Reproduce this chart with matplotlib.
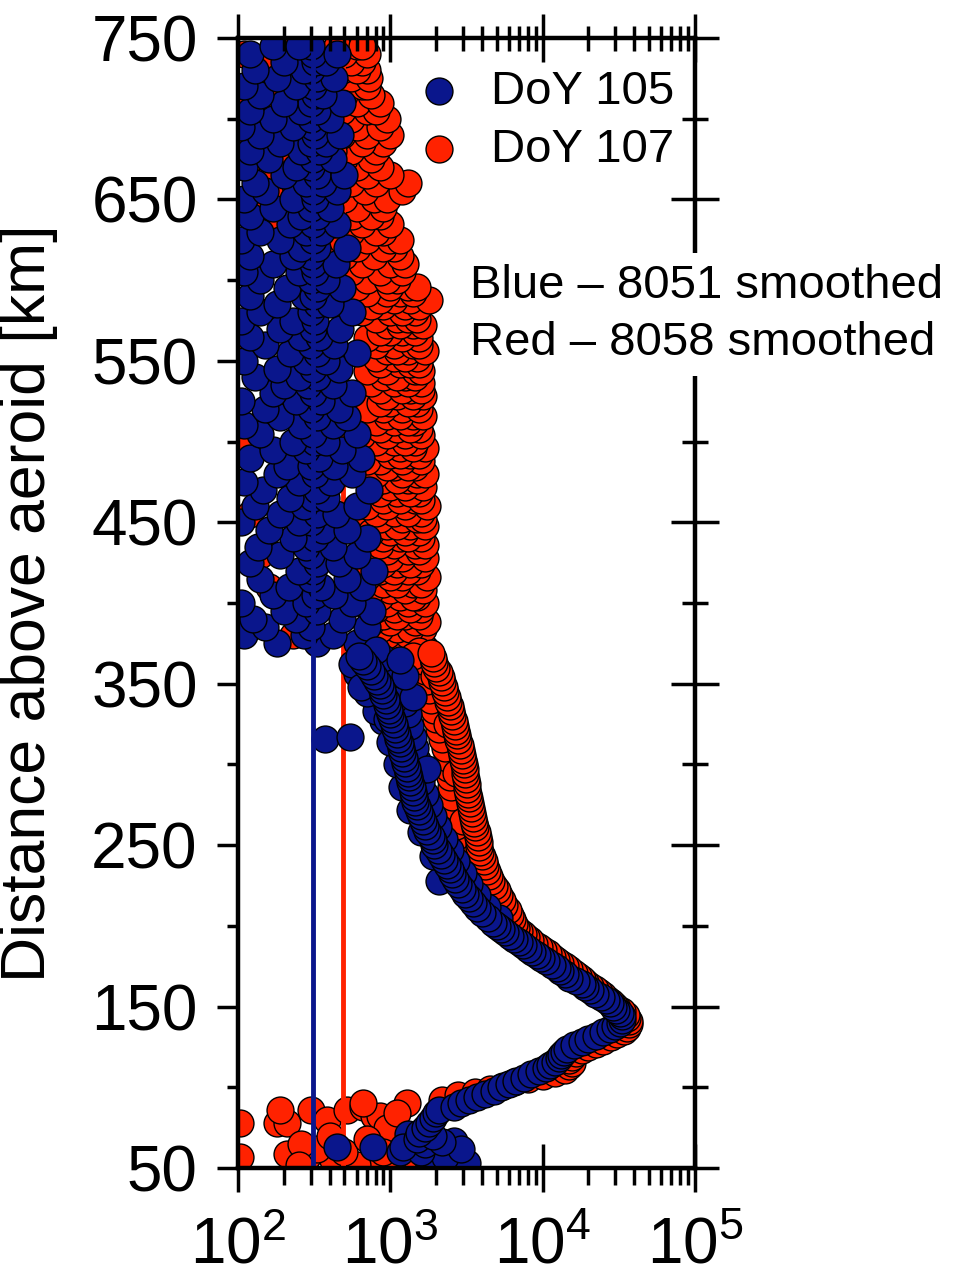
import numpy as np
import matplotlib
matplotlib.use("Agg")
import matplotlib.pyplot as plt
from matplotlib.ticker import LogLocator

BLUE = "#0a168c"
RED = "#ff2200"

# DoY 105: dense lower profile, (altitude km, value)
blue_core = [
    (50, 2600), (53, 3200), (55, 1900), (57, 2300), (60, 1600), (62, 2900), (63, 1220),
    (65, 1700), (66, 2200), (68, 1500), (70, 1900), (72, 1550), (75, 1700), (78, 1800),
    (81, 1900), (84, 2000), (86, 2100), (88, 2600), (90, 2900), (92, 3300), (94, 3700),
    (96, 4200), (98, 4800), (100, 5300), (102, 6000), (104, 6700), (106, 7500), (108, 8400),
    (110, 9500), (112, 10500), (114, 11200), (116, 12000), (118, 12800), (120, 13300),
    (122, 13800), (124, 14500), (126, 16000), (128, 18000), (130, 20000), (132, 22500),
    (134, 25000), (136, 27500), (138, 30000), (140, 32000), (142, 33000), (144, 33000),
    (146, 32000), (148, 30500), (150, 29000), (152, 27500), (154, 26000), (156, 24000),
    (158, 22000), (160, 20500), (162, 19000), (164, 18000), (166, 16500), (168, 15000),
    (170, 14000), (172, 13000), (174, 12500), (176, 11500), (178, 10500), (180, 9800),
    (182, 9200), (184, 8500), (186, 8000), (188, 7400), (190, 7000), (192, 6500),
    (194, 6100), (196, 5700), (198, 5300), (200, 5000), (202, 4700), (205, 4400),
    (208, 4000), (211, 3700), (214, 3500), (217, 3300), (220, 3100), (223, 2950),
    (226, 2800), (229, 2650), (232, 2550), (235, 2450), (238, 2350), (241, 2250),
    (244, 2150), (247, 2050), (250, 1950), (253, 1900), (256, 1850), (259, 1750),
    (262, 1700), (265, 1650), (268, 1600), (271, 1550), (274, 1500), (277, 1450),
    (280, 1420), (283, 1400), (286, 1380), (289, 1350), (292, 1330), (295, 1300),
    (298, 1280), (301, 1250), (304, 1230), (307, 1200), (310, 1180), (313, 1150),
    (316, 1130), (319, 1100), (322, 1080), (325, 1050), (328, 1020), (331, 1000),
    (334, 980), (337, 950), (340, 930), (343, 900), (346, 880), (349, 850), (352, 820),
    (355, 780), (358, 750), (361, 700), (364, 660), (367, 620),
]
blue_spread = [
    (205, 5200), (212, 4300), (219, 3700), (226, 3300), (233, 3000), (240, 2700),
    (247, 2450), (254, 2250), (261, 2050), (268, 1900), (275, 1800), (282, 1700),
    (289, 1600), (296, 1550), (303, 1500), (310, 1450), (317, 1400), (324, 1350),
    (331, 1300), (338, 1250), (345, 1200), (352, 1100), (359, 1000), (366, 900),
    (316, 370), (317, 540), (327, 900), (333, 800), (344, 700), (356, 600),
    (362, 560), (371, 800), (340, 1050), (348, 640),
    (228, 2100), (243, 1900), (258, 1600), (272, 1350), (286, 1200), (300, 1100),
    (314, 1000), (328, 950), (342, 1400), (355, 1250), (365, 1150), (297, 1750),
    (63, 450), (63, 770), (60, 1150), (58, 1700), (54, 2100), (67, 2600), (71, 1300),
]
# DoY 105: scattered values above ~370 km
blue_upper = {
    375: [330, 600, 180], 380: [110, 270, 420], 385: [300, 150, 700], 390: [240, 480, 125],
    395: [330, 760, 200], 400: [105, 280, 560], 405: [320, 170, 430], 410: [215, 350, 650],
    415: [140, 300, 520], 420: [310, 250, 780], 425: [120, 330, 460], 430: [190, 300, 600],
    435: [280, 420, 135], 440: [320, 230, 700], 445: [160, 360, 520], 450: [105, 300, 250],
    455: [330, 440, 190], 460: [270, 600, 130], 465: [310, 380, 220], 470: [145, 330, 720],
    475: [250, 410, 110], 480: [320, 560, 180], 485: [210, 300, 430], 490: [120, 340, 640],
    495: [280, 480, 170], 500: [320, 230, 380], 505: [140, 310, 600], 510: [260, 420, 110],
    515: [330, 190, 520], 520: [300, 150, 460], 525: [240, 350, 105], 530: [310, 560, 170],
    535: [200, 290, 420], 540: [130, 330, 250], 545: [310, 460, 180], 550: [110, 280, 380],
    555: [330, 220, 600], 560: [150, 300, 430], 565: [260, 340, 120], 570: [310, 190, 470],
    575: [230, 320, 105], 580: [300, 140, 560], 585: [180, 330, 400], 590: [270, 120, 310],
    595: [330, 210, 480], 600: [140, 300, 380], 605: [250, 320, 110], 610: [310, 170, 440],
    615: [120, 300, 230], 620: [330, 260, 520], 625: [190, 310, 105], 630: [280, 350, 140],
    635: [310, 220, 450], 640: [120, 330, 260], 645: [300, 170, 400], 650: [230, 320, 110],
    655: [310, 450, 150], 660: [130, 280, 360], 665: [330, 200, 500], 670: [110, 300, 240],
    675: [310, 160, 420], 680: [260, 340, 120], 685: [300, 190, 380], 690: [140, 320, 470],
    695: [310, 230, 105], 700: [170, 300, 400], 705: [330, 120, 260], 710: [300, 200, 480],
    715: [140, 320, 360], 720: [310, 240, 110], 725: [180, 330, 430], 730: [300, 130, 270],
    735: [320, 200, 380], 740: [120, 310, 450], 745: [300, 170, 250],
}

# DoY 107: dense lower profile
red_core = [
    (92, 2200), (95, 2800), (97, 3600), (99, 4500), (101, 5500), (103, 6500), (105, 8000),
    (107, 10000), (109, 12000), (111, 14000), (113, 15000), (115, 15500), (117, 15000),
    (119, 15500), (121, 16500), (123, 18000), (125, 20000), (127, 22500), (129, 25000),
    (131, 28000), (133, 31000), (135, 34000), (137, 36000), (139, 37000), (141, 37000),
    (143, 36000), (145, 35000), (147, 33000), (149, 31000), (151, 29500), (153, 28000),
    (155, 26500), (157, 25000), (159, 23500), (161, 22000), (163, 20500), (165, 19000),
    (167, 18000), (169, 17000), (171, 16000), (173, 15000), (175, 14000), (177, 13000),
    (179, 12200), (181, 11500), (183, 10800), (185, 10000), (187, 9400), (189, 8800),
    (191, 8300), (193, 7800), (195, 7400), (197, 7000), (199, 6700), (201, 6500),
    (204, 6300), (207, 6100), (210, 5900), (213, 5600), (216, 5400), (219, 5200),
    (222, 5000), (225, 4800), (228, 4600), (231, 4450), (234, 4300), (237, 4200),
    (240, 4100), (243, 4000), (246, 3900), (249, 3850), (252, 3800), (255, 3750),
    (258, 3700), (261, 3600), (264, 3550), (267, 3500), (270, 3450), (273, 3400),
    (276, 3350), (279, 3300), (282, 3250), (285, 3200), (288, 3200), (291, 3150),
    (294, 3100), (297, 3100), (300, 3050), (303, 3000), (306, 2950), (309, 2900),
    (312, 2850), (315, 2800), (318, 2750), (321, 2700), (324, 2650), (327, 2600),
    (330, 2550), (333, 2500), (336, 2450), (339, 2400), (342, 2350), (345, 2300),
    (348, 2250), (351, 2200), (354, 2150), (357, 2100), (360, 2000), (363, 1950),
    (366, 1900), (369, 1850),
]
red_spread = [
    (202, 5600), (208, 4900), (214, 4300), (220, 3900), (226, 3600), (232, 3300),
    (238, 3100), (244, 2950), (250, 2850), (256, 2750), (262, 2700), (268, 2650),
    (274, 2600), (280, 2550), (286, 2500), (292, 2450), (298, 2400), (304, 2350),
    (310, 2300), (316, 2200), (322, 2100), (328, 2000), (334, 1950), (340, 1850),
    (346, 1800), (352, 1750), (358, 1700), (364, 1650), (370, 1550),
    (235, 3600), (265, 3000), (295, 2700), (325, 2350), (355, 1950), (367, 1400),
]
# DoY 107: band above ~370 km
red_upper = {
    372: [1400, 900, 1700, 650], 376: [1200, 1600, 800, 1050], 380: [1500, 950, 1300, 700],
    384: [1100, 1650, 850, 1350], 388: [1450, 1000, 1750, 750], 392: [1250, 900, 1550, 1100],
    396: [1600, 1050, 800, 1350], 400: [1300, 1700, 950, 650], 404: [1150, 1500, 850, 1400],
    408: [1650, 1000, 1250, 750], 412: [1400, 900, 1600, 1100], 416: [1200, 1750, 1000, 700],
    420: [1500, 850, 1300, 1050], 424: [1100, 1600, 900, 1350], 428: [1700, 1200, 800, 1000],
    432: [1300, 950, 1550, 650], 436: [1450, 1050, 1700, 850], 440: [1150, 1600, 900, 1300],
    444: [1550, 1000, 750, 1250], 448: [1350, 1700, 950, 1100], 452: [1200, 850, 1500, 1650],
    456: [1600, 1050, 800, 1300], 460: [1250, 1750, 950, 700], 464: [1450, 900, 1150, 1600],
    468: [1100, 1550, 850, 1350], 472: [1650, 1000, 1250, 750], 476: [1300, 900, 1500, 1100],
    480: [1500, 1200, 800, 1700], 484: [1050, 1450, 950, 1300], 488: [1600, 850, 1200, 700],
    492: [1350, 1000, 1550, 1150], 496: [1150, 1700, 900, 1400], 500: [1450, 1050, 800, 1250],
    504: [1250, 1600, 950, 650], 508: [1550, 1100, 850, 1350], 512: [1050, 1450, 1300, 800],
    516: [1400, 950, 1650, 1150], 520: [1200, 1550, 900, 700], 524: [1500, 1000, 1300, 850],
    528: [1100, 1650, 950, 1400], 532: [1350, 850, 1200, 1600], 536: [1600, 1050, 750, 1300],
    540: [1250, 1450, 900, 1100], 544: [1450, 950, 1600, 700], 548: [1150, 1350, 850, 1550],
    552: [1500, 1050, 1250, 800], 556: [1300, 1700, 950, 1100], 560: [1050, 1400, 800, 1550],
    564: [1550, 1200, 900, 700], 568: [1200, 1450, 1000, 850], 572: [1400, 950, 1650, 1150],
    576: [1100, 1300, 800, 1500], 580: [1450, 1000, 1200, 650], 584: [1250, 1550, 900, 750],
    588: [1350, 1050, 1800, 850], 592: [1150, 1400, 950, 700], 596: [1300, 1000, 1500, 600],
    600: [1100, 700, 450, 950], 605: [850, 1200, 550, 380], 610: [1000, 650, 1250, 420],
    615: [780, 1150, 500, 300], 620: [1050, 600, 900, 350], 625: [700, 1000, 480, 1150],
    630: [900, 550, 800, 250], 635: [650, 1000, 420, 180], 640: [850, 560, 750, 300],
    645: [600, 900, 420, 140], 650: [780, 500, 950, 220], 655: [1200, 680, 450, 160],
    660: [1300, 550, 800, 320], 665: [700, 480, 1000, 150], 670: [600, 850, 400, 240],
    675: [750, 500, 300, 120], 680: [550, 800, 420, 200], 685: [900, 650, 380, 105],
    690: [700, 1000, 480, 260], 695: [600, 850, 420, 180], 700: [950, 550, 320, 110],
    705: [700, 480, 800, 230], 710: [600, 380, 850, 150], 715: [750, 500, 280, 120],
    720: [650, 450, 700, 200], 725: [550, 720, 350, 130], 730: [700, 480, 600, 250],
    735: [650, 400, 550, 170], 740: [700, 500, 350, 110], 745: [600, 450, 650, 200],
}
red_extra = [
    (501, 105), (455, 120), (560, 115), (430, 140), (450, 270), (449, 650), (380, 230),
    (410, 160), (520, 200),
]
# DoY 107: points near the bottom
red_bottom = [
    (57, 103), (78, 103), (78, 180), (78, 210), (86, 190), (86, 300), (80, 385), (86, 520),
    (88, 660), (82, 780), (82, 860), (90, 660), (90, 1290), (59, 210), (57, 285), (55, 420),
    (55, 780), (55, 1100), (55, 1500), (52, 600), (62, 330), (65, 260), (60, 500),
    (70, 400), (75, 950), (84, 1100), (52, 1800), (60, 900), (52, 250), (68, 700),
]

blue_level = 310
red_level = 490

y_major = [50, 150, 250, 350, 450, 550, 650, 750]
y_minor = [100, 200, 300, 400, 500, 600, 700]


def rows_to_pairs(rows):
    return [(a, v) for a, vals in rows.items() for v in vals]


plt.rcParams["font.family"] = ["Liberation Sans", "DejaVu Sans"]
plt.rcParams["mathtext.fontset"] = "custom"
plt.rcParams["mathtext.rm"] = "Liberation Sans"
plt.rcParams["mathtext.it"] = "Liberation Sans:italic"
plt.rcParams["mathtext.bf"] = "Liberation Sans:bold"

fig = plt.figure(figsize=(9.55, 12.76), dpi=100)
ax = fig.add_axes([0.2492, 0.0846, 0.4785, 0.8856])

red_pts = red_extra + rows_to_pairs(red_upper) + red_spread + red_core + red_bottom
blue_pts = rows_to_pairs(blue_upper) + blue_spread + blue_core

ra, rv = zip(*red_pts)
ba, bv = zip(*blue_pts)

S = 375
sr = ax.scatter(rv, ra, s=S, c=RED, edgecolors="black", linewidths=1.0, zorder=2,
                label="DoY 107")
ax.axvline(red_level, color=RED, lw=3.5, zorder=3)
sb = ax.scatter(bv, ba, s=S, c=BLUE, edgecolors="black", linewidths=1.0, zorder=4,
                label="DoY 105")
ax.axvline(blue_level, color=BLUE, lw=3.5, zorder=5)

ax.set_xscale("log")
ax.set_xlim(100, 1e5)
ax.set_ylim(50, 750)
ax.xaxis.set_major_locator(LogLocator(base=10, numticks=20))
ax.xaxis.set_minor_locator(LogLocator(base=10, subs=(2, 3, 4, 5, 6, 7, 8, 9), numticks=40))
ax.set_yticks(y_major)
ax.set_yticks(y_minor, minor=True)

for sp in ax.spines.values():
    sp.set_linewidth(3)

ax.tick_params(axis="y", which="major", direction="out", length=15, width=2.5,
               labelsize=46, pad=14)
ax.tick_params(axis="y", which="minor", direction="out", length=8, width=2.5)
ax.tick_params(axis="x", which="major", direction="inout", length=34, width=2.5,
               labelsize=46, pad=18)
ax.tick_params(axis="x", which="minor", direction="out", length=12, width=2.5)
ax.set_ylabel("Distance above aeroid [km]", fontsize=45, labelpad=24)

# right axis: crossing ticks, no labels
axr = ax.twinx()
axr.set_ylim(50, 750)
axr.set_yticks(y_major)
axr.set_yticks(y_minor, minor=True)
axr.tick_params(axis="y", which="major", direction="inout", length=34, width=2.5,
                labelright=False)
axr.tick_params(axis="y", which="minor", direction="inout", length=19, width=2.5)

# top axis: crossing ticks, no labels
axt = ax.twiny()
axt.set_xscale("log")
axt.set_xlim(100, 1e5)
axt.xaxis.set_major_locator(LogLocator(base=10, numticks=20))
axt.xaxis.set_minor_locator(LogLocator(base=10, subs=(2, 3, 4, 5, 6, 7, 8, 9), numticks=40))
axt.tick_params(axis="x", which="major", direction="inout", length=34, width=2.5,
                labeltop=False)
axt.tick_params(axis="x", which="minor", direction="inout", length=18, width=2.5)
for a in (axr, axt):
    for sp in a.spines.values():
        sp.set_linewidth(3)

ax.legend(handles=[sb, sr], loc="upper right", bbox_to_anchor=(0.955, 0.972),
          frameon=False, fontsize=34, handlelength=1.0, handletextpad=0.6,
          borderpad=0, borderaxespad=0, labelspacing=0.3, scatterpoints=1)

box = dict(facecolor="white", edgecolor="none", pad=8)
fig.text(0.492, 1 - 298 / 1276, "Blue \u2013 8051 smoothed", fontsize=34,
         ha="left", va="baseline", bbox=box, zorder=10)
fig.text(0.492, 1 - 355 / 1276, "Red \u2013 8058 smoothed", fontsize=34,
         ha="left", va="baseline", bbox=box, zorder=10)

fig.savefig("out.png", dpi=100)
